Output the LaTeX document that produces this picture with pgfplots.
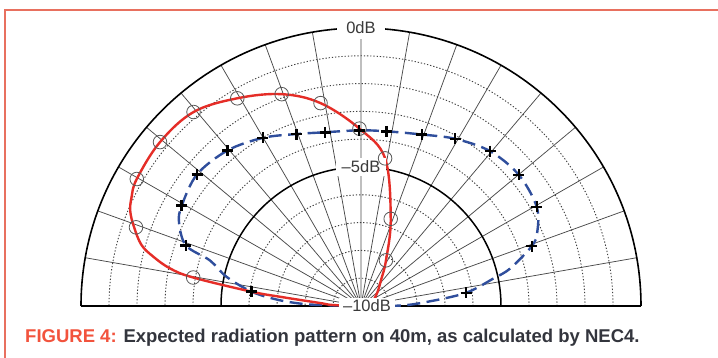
\documentclass[border=0pt]{standalone}
\usepackage{pgfplots}
\pgfplotsset{compat=1.18}
\usepgfplotslibrary{polar}
\usepackage{pgfplotstable}
\usepackage{fontspec}
\setmainfont{Liberation Sans}
\definecolor{framered}{HTML}{E8705F}
\definecolor{capred}{HTML}{F2533D}
\definecolor{captext}{HTML}{33353D}
\definecolor{curvered}{HTML}{E52D27}
\definecolor{curveblue}{HTML}{2F4E9C}
\definecolor{gridgray}{HTML}{4A4A4A}
\definecolor{labelgray}{HTML}{3A3A3A}

% angle (deg), gain (dB)
\pgfplotstableread{
ang db
180 -10
178 -9.0
175.8 -8.53
173.45 -7.09
172.5 -6.06
170.3 -3.92
168.8 -3.05
166.5 -2.36
164.3 -1.85
160.6 -1.40
157.5 -1.08
154.5 -0.92
150.3 -0.78
140.6 -0.71
130.6 -0.81
120.6 -1.32
110.4 -1.87
101.2 -2.56
90.5 -3.62
80.8 -4.62
71.3 -6.69
61.5 -8.13
52.4 -8.83
39 -9.26
20 -9.6
0 -10
}\redcurve

\pgfplotstableread{
ang db
170.3 -3.92
160.6 -1.48
150.3 -0.78
140.6 -0.71
130.6 -0.81
120.6 -1.32
110.4 -1.87
101.2 -2.56
90.5 -3.62
80.8 -4.62
71.3 -6.69
61.5 -8.13
}\redmarks

\pgfplotstableread{
ang db
180 -10
178.6 -8.54
177.7 -7.82
175.6 -6.98
172.5 -6.06
167.7 -5.09
163.1 -4.36
160.8 -3.38
155.2 -2.84
150.6 -2.65
141.0 -2.47
130.4 -2.65
120.1 -3.01
110.4 -3.40
101.6 -3.62
90.6 -3.68
81.7 -3.65
70.6 -3.46
60.8 -3.11
50.4 -2.77
39.9 -2.65
29.6 -2.78
22.85 -3.17
19.45 -3.53
14.2 -4.51
11.8 -5.17
7.2 -6.22
3.7 -7.6
0.7 -8.57
0 -10
}\bluecurve

\pgfplotstableread{
ang db
172.5 -6.06
160.8 -3.38
150.6 -2.65
141.0 -2.47
130.4 -2.65
120.1 -3.01
110.4 -3.40
101.6 -3.62
90.6 -3.68
81.7 -3.65
70.6 -3.46
60.8 -3.11
50.4 -2.77
39.9 -2.65
29.6 -2.78
19.45 -3.53
7.2 -6.22
}\bluemarks

\begin{document}
\begin{tikzpicture}
\useasboundingbox (0,0) rectangle (718pt,358pt);
\fill[white] (0,0) rectangle (718pt,358pt);
\begin{polaraxis}[
  name=ax, at={(361pt,52pt)}, anchor=south,
  scale only axis, width=560pt, height=556pt,
  xmin=0, xmax=180, ymin=0, ymax=10,
  xtick={0,10,...,180}, ytick={5}, minor ytick={1,2,3,4,6,7,8,9},
  xticklabels={}, yticklabels={},
  major tick length=0pt, minor tick length=0pt,
  grid=both,
  major x grid style={gridgray, line width=0.75pt},
  major y grid style={black, line width=1.5pt},
  minor y grid style={black!75, line width=0.9pt, dash pattern=on 1.3pt off 1.9pt},
  axis line style={black, line width=1.6pt},
  clip=false,
]
\addplot[curveblue, line width=2.4pt, dash pattern=on 13pt off 6.5pt, smooth, tension=0.55] table[x=ang, y expr=\thisrow{db}+10] {\bluecurve};
\addplot[curvered, line width=2.4pt, smooth, tension=0.6] table[x=ang, y expr=\thisrow{db}+10] {\redcurve};
\addplot[only marks, mark=o, mark size=6.8pt, mark options={draw=gray!70!black, line width=0.8pt}] table[x=ang, y expr=\thisrow{db}+10] {\redmarks};
\addplot[only marks, mark=+, mark size=5.5pt, mark options={black, line width=2.5pt}] table[x=ang, y expr=\thisrow{db}+10] {\bluemarks};
\node[fill=white, inner xsep=9pt, inner ysep=5pt, text=labelgray, font=\fontsize{16.5}{16.5}\selectfont] at (axis cs:90,10) {0dB};
\node[fill=white, inner xsep=6pt, inner ysep=3pt, text=labelgray, font=\fontsize{16.5}{16.5}\selectfont] at (axis cs:90,5) {–5dB};
\node[fill=white, inner xsep=4pt, inner ysep=2pt, text=labelgray, font=\fontsize{16.5}{16.5}\selectfont, xshift=6pt] at (axis cs:0,0) {–10dB};
\end{polaraxis}
\draw[framered, line width=2.2pt] (5pt,0pt) -- (5pt,348pt) -- (718pt,348pt);
\node[anchor=base west, inner sep=0pt, font=\fontsize{18.5}{18.5}\selectfont\bfseries] at (25pt,15pt) {\textcolor{capred}{FIGURE 4:} \textcolor{captext}{Expected radiation pattern on 40m, as calculated by NEC4.}};
\end{tikzpicture}
\end{document}
